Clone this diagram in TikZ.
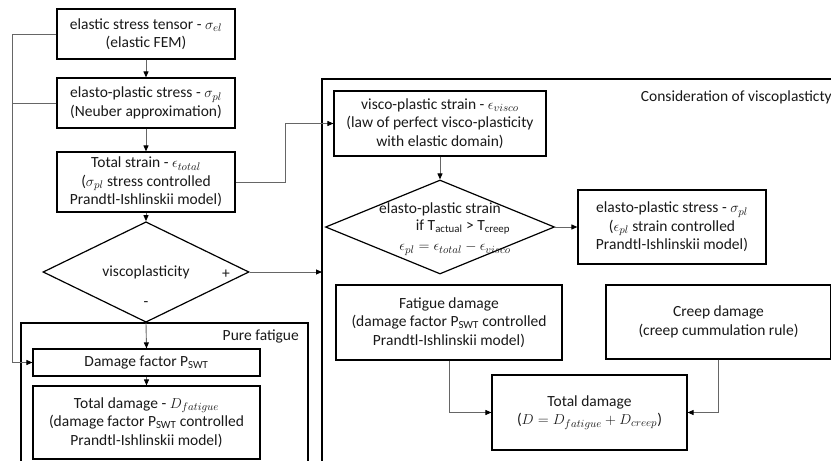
\documentclass[tikz,border=0pt]{standalone}
\usepackage{fontspec}
\setmainfont{Carlito}
\usetikzlibrary{shapes.geometric,arrows.meta}
\begin{document}
\begin{tikzpicture}[x=1pt,y=-1pt,
  every node/.style={font=\fontsize{15.5}{18.5}\selectfont, text=black!90},
  box/.style={draw=black, line width=1.2pt, align=center, inner sep=0pt, fill=white},
  dia/.style={draw=black, line width=1.2pt, shape=diamond, inner sep=0pt, align=center},
  frame/.style={draw=black, line width=1.1pt},
  conn/.style={draw=black!60, line width=0.9pt},
  arr/.style={conn, -{Triangle[length=6pt,width=5pt,fill=black,color=black]}},
  lbl/.style={inner sep=0pt}
]
\useasboundingbox (0,0) rectangle (831,461);
\clip (0,0) rectangle (831,461);
% frames
\draw[frame] (21,470) -- (21,323) -- (308,323) -- (308,470);
\draw[frame] (322,470) -- (322,79) -- (845,79);
\node[lbl, anchor=east] (lpf) at (299,336) {Pure fatigue};
\node[lbl, anchor=east] (lcv) at (832,97) {Consideration of viscoplasticty};
% left column
\node[box, minimum width=178pt, minimum height=50pt] (b1) at (146,34)
  {elastic stress tensor - $\sigma_{el}$\\(elastic FEM)};
\node[box, minimum width=178pt, minimum height=50pt] (b2) at (146,103)
  {elasto-plastic stress - $\sigma_{pl}$\\(Neuber approximation)};
\node[box, minimum width=178pt, minimum height=60pt] (b3) at (146,182)
  {Total strain - $\epsilon_{total}$\\($\sigma_{pl}$ stress controlled\\Prandtl-Ishlinskii model)};
\node[dia, minimum width=206pt, minimum height=86pt] (d1) at (146,272) {viscoplasticity};
\node[lbl] (plus) at (226,274) {+};
\node[lbl] (minus) at (146,304) {-};
\node[box, minimum width=227pt, minimum height=27pt] (df) at (146.5,362.5)
  {Damage factor P\textsubscript{SWT}};
\node[box, minimum width=227pt, minimum height=73pt] (td) at (146.5,422.5)
  {Total damage - $D_{fatigue}$\\(damage factor P\textsubscript{SWT} controlled\\Prandtl-Ishlinskii model)};
% right region
\node[box, minimum width=212pt, minimum height=65pt] (vp) at (440,123.5)
  {visco-plastic strain - $\epsilon_{visco}$\\(law of perfect visco-plasticity\\with elastic domain)};
\node[dia, minimum width=229pt, minimum height=94pt] (d2) at (440,227) {};
\node[lbl] (d2a) at (440,209) {elasto-plastic strain};
\node[lbl] (d2b) at (463,227) {if T\textsubscript{actual} > T\textsubscript{creep}};
\node[lbl] (d2c) at (455,249) {$\epsilon_{pl}=\epsilon_{total}-\epsilon_{visco}$};
\node[box, minimum width=188pt, minimum height=74pt] (s2) at (672,227)
  {elasto-plastic stress - $\sigma_{pl}$\\($\epsilon_{pl}$ strain controlled\\Prandtl-Ishlinskii model)};
\node[box, minimum width=226pt, minimum height=75pt] (fd) at (449,322.5)
  {Fatigue damage\\(damage factor P\textsubscript{SWT} controlled\\Prandtl-Ishlinskii model)};
\node[box, minimum width=225pt, minimum height=74pt] (cd) at (718.5,322)
  {Creep damage\\(creep cummulation rule)};
\node[box, minimum width=195pt, minimum height=75pt] (tt) at (589.5,412.5)
  {Total damage\\($D=D_{fatigue}+D_{creep}$)};
% coordinates
\coordinate (fl) at (322,272);
\coordinate (k1) at (12,34);
\coordinate (k2) at (12,103);
\coordinate (k3) at (12,362.5);
\coordinate (k4) at (285,182);
\coordinate (k5) at (285,123.5);
\coordinate (k6) at (449,412.5);
\coordinate (k7) at (718.5,412.5);
% connectors
\draw[arr] (b1.south) -- (b2.north);
\draw[arr] (b2.south) -- (b3.north);
\draw[arr] (b3.south) -- (d1.north);
\draw[arr] (d1.south) -- (df.north);
\draw[arr] (df.south) -- (td.north);
\draw[conn] (b1.west) -- (k1) -- (k3);
\draw[conn] (b2.west) -- (k2);
\draw[arr] (k3) -- (df.west);
\draw[arr] (b3.east) -- (k4) -- (k5) -- (vp.west);
\draw[arr] (d1.east) -- (fl);
\draw[arr] (vp.south) -- (d2.north);
\draw[arr] (d2.east) -- (s2.west);
\draw[arr] (fd.south) -- (k6) -- (tt.west);
\draw[arr] (cd.south) -- (k7) -- (tt.east);
\end{tikzpicture}
\end{document}
